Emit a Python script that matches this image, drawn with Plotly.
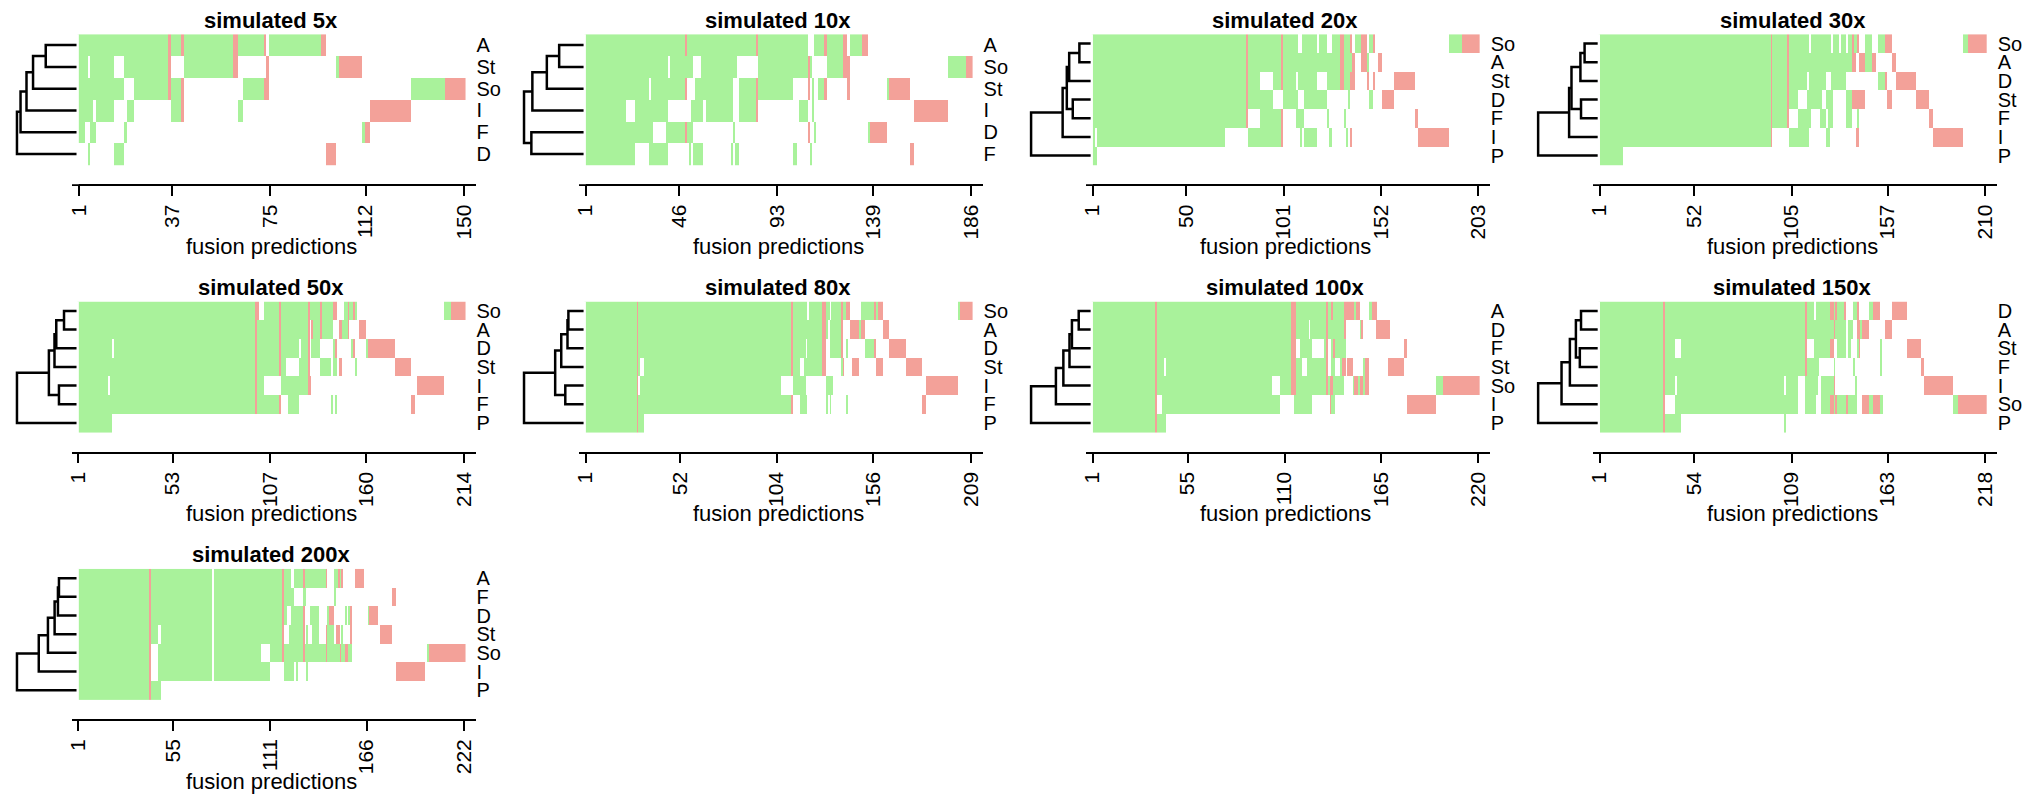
import plotly.graph_objects as go

W, H = 2042, 797
GREEN = "#A9F29B"
RED = "#F3A199"
FONT = "Liberation Sans, Arial, Helvetica, sans-serif"

titles = ["simulated 5x", "simulated 10x", "simulated 20x", "simulated 30x",
          "simulated 50x", "simulated 80x", "simulated 100x", "simulated 150x",
          "simulated 200x"]
n_cols = [150, 186, 203, 210, 214, 209, 220, 218, 222]
x_ticks = [[1, 37, 75, 112, 150], [1, 46, 93, 139, 186], [1, 50, 101, 152, 203],
           [1, 52, 105, 157, 210], [1, 53, 107, 160, 214], [1, 52, 104, 156, 209],
           [1, 55, 110, 165, 220], [1, 54, 109, 163, 218], [1, 55, 111, 166, 222]]
row_labels = [["A", "St", "So", "I", "F", "D"],
              ["A", "So", "St", "I", "D", "F"],
              ["So", "A", "St", "D", "F", "I", "P"],
              ["So", "A", "D", "St", "F", "I", "P"],
              ["So", "A", "D", "St", "I", "F", "P"],
              ["So", "A", "D", "St", "I", "F", "P"],
              ["A", "D", "F", "St", "So", "I", "P"],
              ["D", "A", "St", "F", "I", "So", "P"],
              ["A", "F", "D", "St", "So", "I", "P"]]

# cell runs per row: g = green (true), r = red (false); columns 1-based
cells_5x = ["g1-35 r36 g37-40 r41 g42-60 r61-62 g63-72 r73 g75-94 r95-96",
            "g1-4 g6-14 g19-35 r36 g42-60 r61-62 r74 g101 r102-110",
            "g1-18 g23-35 r36 g37-40 r41 g65-72 r73-74 g130-142 r143-150",
            "g1-6 g8-14 g20-22 g37-40 r41 g63-64 r114-129",
            "g1-3 g6-7 g19 g111 r112-113",
            "g5 g15-18 r97-100"]
cells_10x = ["g1-48 r49 g50-82 r83 g84-107 g111-115 r116 g117-124 r125-126 g128-133 r134-136",
             "g1-40 g42-52 g57-73 g84-107 r108 g109 g117-124 r125-127 g175-183 r184-186",
             "g1-31 g33-48 r49 g54-71 g75-82 r83 g84-100 r108 g110 g113-115 r116 r127 g146 r147-156",
             "g1-20 g25-40 g52-57 g59-71 g75-82 r83 g104-107 g110 r159-174",
             "g1-33 g40-48 r49 g50-52 g72 r108 g111 g137 r138-145",
             "g1-24 g32-40 g51 g53-57 g71 g73-74 g101-102 g109 r157-158"]
cells_20x = ["g1-81 r82 g83-99 r100 g101-108 g111-118 g120-123 g127-130 r131-132 g133-135 r136 g139-141 r142-144 g146-147 r148 g188-194 r195-203",
             "g1-81 r82 g83-99 r100 g101-130 r131-132 g133-136 r137-138 r142-144 g145 r151-152",
             "g1-81 r82 g83-88 g96-99 r100 g101-107 g109-118 g124-130 r131-132 g133-135 r136-138 r145 r148 r159-169",
             "g1-81 r82 g83-95 g101-108 g112-123 g135 g146-147 r153-158",
             "g1-81 r82 g89-99 r100 g108-111 g124 g133 r170-171",
             "g1-2 g4-70 g83-99 r100 g110 g112-118 g125-126 g134 r136 r172-187",
             "g1-3"]
cells_30x = ["g1-93 r94 g95-102 r103 g104-114 g116-126 g128-130 g132-134 g136-137 r138 g139-140 r141 g145-148 g152-155 r156-159 g198-200 r201-210",
             "g1-93 r94 g95-102 r103 g104-137 r138-139 r142-144 g145-148 r149-150 r160-161",
             "g1-93 r94 g95-102 r103 g104-113 g115-123 g127-134 g152-155 r156 r162-172",
             "g1-93 r94 g95-102 r103 g104-108 g114-121 g124-127 g135-137 r138-144 r157-159 r173-179",
             "g1-93 r94 g95-102 r103 g109-115 g121-123 g125-127 g135-137 g141 r180-181",
             "g1-93 r94 g104-114 g124-125 r140-141 r182-197",
             "g1-13"]
cells_50x = ["g1-98 r99-100 g104-111 r112 g113-127 r128 g129-134 r135 g136-141 r142-143 g148-149 r150 g151-152 r153 g154 g203-206 r207-214",
             "g1-98 r99 g100-111 r112 g113-127 r128 r130 g131-134 r135 g136-141 r145-146 g147-149 r150 r156-159",
             "g1-19 g21-98 r99 g100-111 r112 g113-122 g124-127 r128 g130-134 g142 r143 g152 r153 g160 r161-175",
             "g1-98 r99 g100-111 r112 g113-115 g123-127 r128 g135-140 g142-143 r145-146 g154 r176-184",
             "g1-17 g19-98 r99 g100-103 g113-127 r128-129 r188-202",
             "g1-98 r99 g100-111 r112 g117-122 g141 g143 r185-186",
             "g1-19"]
cells_80x = ["g1-28 r29 g30-111 r112 g113-120 g122-128 r129-130 g131-132 g134-138 r139 g140-141 r142-143 g150-156 r157 g158 r159-161 g202 r203-209",
             "g1-28 r29 g30-111 r112 g113-128 r129-130 g131 g133-138 r139 r144-148 g149 r150-151 r162-164",
             "g1-28 r29 g30-111 r112 g113-119 g121-128 r129-130 g133-138 r139 g142 g152-156 r157 r165-173",
             "g1-28 r29 g30 g33-111 r112 g113-116 g119-128 r129-130 g139 r140 r145-148 r158-161 r174-182",
             "g1-28 r29 g31-106 g113-119 g131-134 r185-201",
             "g1-28 r29 g30-111 r112 g117-120 g131 g133 g142 r183-184",
             "g1-28 r29 g30-32"]
cells_100x = ["g1-36 r37 g38-113 r114-116 g117-133 r134 g135-136 r137 g138-143 r144-149 g150 r151-152 g158-159 r160-162",
              "g1-36 r37 g38-113 r114-116 g117-123 g125-133 r134 g135-143 r144 g153 r154 r162-169",
              "g1-36 r37 g38-113 r114-116 g119-125 g133 r134 g137 r138 g139-144 r178-179",
              "g1-36 r37 g38-41 g43-113 r114-116 g117-119 g123-133 r134 g137-138 g142 r143-144 r146-148 g155 r156-157 r169-177",
              "g1-36 r37 g38-102 g108-113 r114-116 g117-133 r134 g135 r136-137 g138-143 g149 r150-151 g152 r153-154 g155 r156-157 g196-199 r200-220",
              "g1-36 r37 g41-107 g116-125 r136 g137-138 r180-186 r187-195",
              "g1-36 r37 g38-42"]
cells_150x = ["g1-36 r37 g38-116 r117 g118-121 g123-130 r131-132 g133 r134 g135-138 r139 g144-145 r146 g153-154 r155-158 r166-173",
              "g1-36 r37 g38-116 r117 g118-132 r133 g134-139 g141-143 r146-147 g148 r149-152 r162-165",
              "g1-36 r37 g38-43 g47-116 r117 g122-130 r131-132 g135-139 g141-142 g146 r147 g159 r174-181",
              "g1-36 r37 g38-116 r117 g118-124 g133 g144 g159 r182-183",
              "g1-36 r37 g38-43 g45-104 g106-112 g117-123 g126-132 r133 g145 r184-199",
              "g1-36 r37 g44-112 g117-122 g126-130 r131-132 g133 r134 g135-139 r140 g141-145 r149-152 g153-154 r155-158 g159-160 g200-202 r203-218",
              "g1-36 r37 g38-46 g105"]
cells_200x = ["g1-41 r42 g43-77 g79-117 r118 g119-122 g125-129 r130 g131-142 r143 g148-149 r150 g151 r152 r160-164",
              "g1-41 r42 g43-77 g79-117 r118 g119-124 g130-131 g148 r181-182",
              "g1-41 r42 g43-77 g79-117 r118 g119-120 g123-129 r130 g134-138 g144 r145-147 g154 g156 r157 g167 r168-172",
              "g1-41 r42 g43-46 g49-77 g79-117 r118 g122-129 r130 g132 g135-138 r143 g144-147 r149-150 g152 r157 r174-180",
              "g1-41 r42 g47-77 g79-105 g111-117 r118 g119-129 r130 g131-142 r143 g144-150 r151 g152-153 r154-155 g156-157 g201 r202-222",
              "g1-41 r42 g47-77 g79-110 g119-124 g126 g132 r183-199",
              "g1-41 r42 g43-48"]
cells = [cells_5x, cells_10x, cells_20x, cells_30x, cells_50x, cells_80x,
         cells_100x, cells_150x, cells_200x]

# dendrogram merges: (child a, child b, relative height); leaves 0..n-1, merge k -> n+k
merges_5x = [(0, 1, 0.517), (6, 2, 0.73), (7, 3, 0.84), (8, 4, 0.94), (9, 5, 1.0)]
merges_10x = [(0, 1, 0.41), (6, 2, 0.617), (7, 3, 0.86), (4, 5, 0.877), (8, 9, 1.0)]
merges_20x = [(0, 1, 0.189), (7, 2, 0.36), (3, 4, 0.30), (8, 9, 0.40), (10, 5, 0.47), (11, 6, 1.0)]
merges_30x = [(0, 1, 0.22), (7, 2, 0.29), (3, 4, 0.28), (8, 9, 0.44), (10, 5, 0.48), (11, 6, 1.0)]
merges_50x = [(0, 1, 0.21), (7, 2, 0.34), (8, 3, 0.37), (4, 5, 0.295), (9, 10, 0.464), (11, 6, 1.0)]
merges_80x = [(0, 1, 0.255), (7, 2, 0.27), (8, 3, 0.375), (4, 5, 0.307), (9, 10, 0.477), (11, 6, 1.0)]
merges_100x = [(0, 1, 0.2), (7, 2, 0.314), (8, 3, 0.355), (9, 4, 0.458), (10, 5, 0.583), (11, 6, 1.0)]
merges_150x = [(0, 1, 0.28), (2, 3, 0.30), (7, 8, 0.366), (9, 4, 0.467), (10, 5, 0.607), (11, 6, 1.0)]
merges_200x = [(0, 1, 0.295), (7, 2, 0.312), (8, 3, 0.368), (9, 4, 0.48), (10, 5, 0.634), (11, 6, 1.0)]
merges = [merges_5x, merges_10x, merges_20x, merges_30x, merges_50x, merges_80x,
          merges_100x, merges_150x, merges_200x]


def parse_row(spec, n):
    z = [None] * n
    for tok in spec.split():
        code, rng = tok[0], tok[1:]
        if "-" in rng:
            a, b = map(int, rng.split("-"))
        else:
            a = b = int(rng)
        for c in range(a, b + 1):
            z[c - 1] = 0 if code == "g" else 1
    return z


def dendro_lines(n, mlist):
    ypos = {i: float(i) for i in range(n)}
    hgt = {i: 0.0 for i in range(n)}
    xs, ys = [], []
    for k, (a, b, h) in enumerate(mlist):
        ya, yb = ypos[a], ypos[b]
        xs += [hgt[a], h, h, hgt[b], None]
        ys += [ya, ya, yb, yb, None]
        ypos[n + k] = (ya + yb) / 2
        hgt[n + k] = h
    return xs, ys


fig = go.Figure()
layout = dict(width=W, height=H, margin=dict(l=0, r=0, t=0, b=0),
              paper_bgcolor="white", plot_bgcolor="white", showlegend=False,
              font=dict(family=FONT, color="black"))
annotations = []

for p in range(9):
    r, c = divmod(p, 4)
    ox, oy = c * 508.3, r * 268.0
    labels = row_labels[p]
    n = len(labels)
    N = n_cols[p]
    z = [parse_row(s, N) for s in cells[p]]

    w = (461.3 - 72.7) / N
    xr = [0.5 - 6.0 / w, N + 0.5 + 10.4 / w]
    rowh = 131.0 / n
    yr = [n - 0.5 + 19.4 / rowh, -0.5]
    xd = [(ox + 66.7) / W, (ox + 471.7) / W]
    yd = [1 - (oy + 182.7) / H, 1 - (oy + 32.3) / H]

    hx, hy = 2 * p + 1, 2 * p + 1
    dx, dy = 2 * p + 2, 2 * p + 2
    sfx = lambda i: "" if i == 1 else str(i)

    fig.add_trace(go.Heatmap(
        z=z, x=list(range(1, N + 1)), y=list(range(n)),
        colorscale=[[0, GREEN], [0.5, GREEN], [0.5, RED], [1, RED]],
        zmin=0, zmax=1, showscale=False, hoverinfo="skip",
        xaxis="x" + sfx(hx), yaxis="y" + sfx(hy)))

    xs, ys = dendro_lines(n, merges[p])
    fig.add_trace(go.Scatter(x=xs, y=ys, mode="lines",
                             line=dict(color="black", width=2.5),
                             hoverinfo="skip",
                             xaxis="x" + sfx(dx), yaxis="y" + sfx(dy)))

    layout["xaxis" + sfx(hx)] = dict(
        domain=xd, range=xr, anchor="y" + sfx(hy), showgrid=False, zeroline=False,
        showline=True, linecolor="black", linewidth=1.8,
        ticks="outside", ticklen=10, tickwidth=1.8, tickcolor="black",
        tickvals=x_ticks[p], ticktext=[str(t) for t in x_ticks[p]],
        tickangle=-90, tickfont=dict(size=21, family=FONT, color="black"))
    layout["yaxis" + sfx(hy)] = dict(
        domain=yd, range=yr, anchor="x" + sfx(hx), side="right",
        showgrid=False, zeroline=False, showline=False, ticks="",
        tickvals=list(range(n)), ticktext=labels,
        tickfont=dict(size=20, family=FONT, color="black"))

    s = 59.7
    layout["xaxis" + sfx(dx)] = dict(
        domain=[(ox + 8) / W, (ox + 74) / W],
        range=[1 + 4.0 / s, -2.3 / s], anchor="y" + sfx(dy),
        visible=False, showgrid=False, zeroline=False)
    layout["yaxis" + sfx(dy)] = dict(
        domain=yd, range=yr, anchor="x" + sfx(dx),
        visible=False, showgrid=False, zeroline=False)

    annotations.append(dict(
        text=titles[p], x=(ox + 267) / W, y=1 - (oy + 18.3) / H,
        xref="paper", yref="paper", showarrow=False,
        xanchor="center", yanchor="middle",
        font=dict(size=22, family=FONT, color="black", weight="bold")))
    annotations.append(dict(
        text="fusion predictions", x=(ox + 267) / W, y=1 - (oy + 245) / H,
        xref="paper", yref="paper", showarrow=False,
        xanchor="center", yanchor="middle",
        font=dict(size=22, family=FONT, color="black")))

layout["annotations"] = annotations
fig.update_layout(**layout)

fig.write_html("out.html", config={"displayModeBar": False},
               post_script="document.body.style.margin='0';")
